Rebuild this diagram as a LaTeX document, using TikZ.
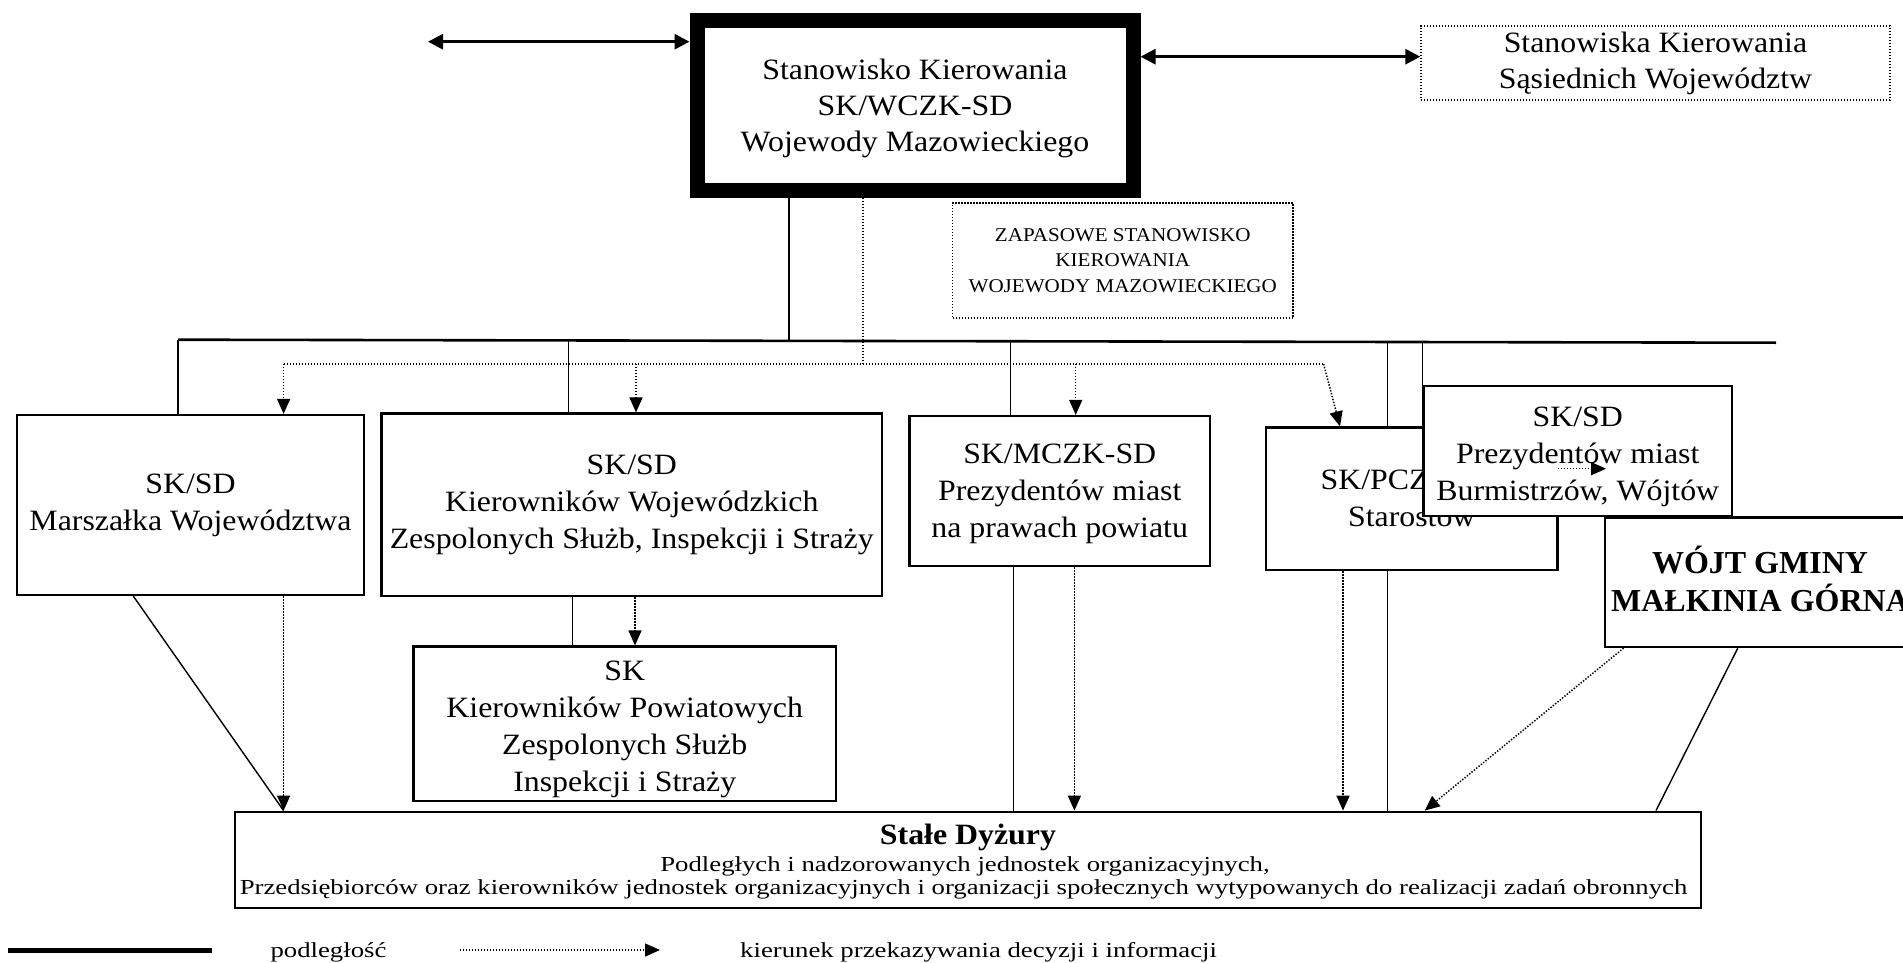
\documentclass[tikz,border=0pt]{standalone}
\usepackage{fontspec}
\setmainfont{Liberation Serif}[FakeStretch=1.08]
\newfontfamily\wideserif{Liberation Serif}[FakeStretch=1.25]
\newfontfamily\nostretchserif{Liberation Serif}
\newcommand\shifttext[2]{\raisebox{#1}[\height][\depth]{\begin{tabular}{@{}c@{}}#2\end{tabular}}}
\usetikzlibrary{arrows.meta}
\begin{document}
\begin{tikzpicture}[x=1pt,y=-1pt,
  boxs/.style={draw, line width=2.2pt, fill=white, inner sep=0pt, align=center,
    font=\fontsize{29.5}{37}\selectfont},
  dotbox/.style={draw, line width=1.4pt, dash pattern=on 1.4pt off 1.6pt, fill=white,
    inner sep=0pt, align=center},
  solidc/.style={line width=1.4pt},
  dotc/.style={line width=1.5pt, dash pattern=on 1.4pt off 1.6pt,
    -{Triangle[length=15pt,width=13pt]}},
  busline/.style={line width=2.6pt},
  dblarrow/.style={line width=3pt,
    {Triangle[length=15pt,width=15pt]}-{Triangle[length=15pt,width=15pt]}},
  plain/.style={inner sep=0pt, anchor=base},
  smalltext/.style={font=\wideserif\fontsize{21.4}{24}\selectfont}
]
\useasboundingbox (0,0) rectangle (1903,963);
\clip (0,0) rectangle (1903,963);

% ---------- boxes ----------
\node[boxs, line width=15pt, minimum width=436pt, minimum height=169pt,
  font=\fontsize{29.5}{36}\selectfont] (main) at (915,105.5)
  {\shifttext{-2.5pt}{Stanowisko Kierowania\\SK/WCZK-SD\\Wojewody Mazowieckiego}};
\node[dotbox, minimum width=469pt, minimum height=74pt,
  font=\fontsize{29.5}{36}\selectfont] (sas) at (1655.5,63)
  {Stanowiska Kierowania\\Sąsiednich Województw};
\node[dotbox, minimum width=340.5pt, minimum height=115pt,
  font=\fontsize{19.5}{25.5}\selectfont] (zap) at (1122.75,260.5)
  {ZAPASOWE STANOWISKO\\KIEROWANIA\\WOJEWODY MAZOWIECKIEGO};
\node[boxs, minimum width=347pt, minimum height=180pt] (marsz) at (190.5,505)
  {SK/SD\\Marszałka Województwa};
\node[boxs, minimum width=500.5pt, minimum height=182.5pt] (kw) at (631.75,504.75)
  {SK/SD\\Kierowników Wojewódzkich\\Zespolonych Służb, Inspekcji i Straży};
\node[boxs, minimum width=422.5pt, minimum height=154.5pt] (kp) at (624.75,723.75)
  {\shifttext{-5pt}{SK\\Kierowników Powiatowych\\Zespolonych Służb\\Inspekcji i Straży}};
\node[boxs, minimum width=300.5pt, minimum height=150pt] (pnpp) at (1059.75,491)
  {\shifttext{-2pt}{SK/MCZK-SD\\Prezydentów miast\\na prawach powiatu}};
\node[boxs, minimum width=291.5pt, minimum height=142.5pt] (staro) at (1411.75,498.75)
  {SK/PCZK-SD\\Starostów};
\node[boxs, minimum width=308.5pt, minimum height=130pt] (prezm) at (1577.75,451)
  {\shifttext{-5pt}{SK/SD\\Prezydentów miast\\Burmistrzów, Wójtów}};
\node[boxs, minimum width=310pt, minimum height=129.5pt,
  font=\nostretchserif\bfseries\fontsize{32}{35}\selectfont] (wojt) at (1760,582.25)
  {\shifttext{-1.3pt}{WÓJT GMINY\\MAŁKINIA GÓRNA}};
\node[boxs, line width=2.8pt, minimum width=1466pt, minimum height=96pt] (stale) at (968,860) {};
\node[plain, font=\bfseries\fontsize{29.5}{32}\selectfont] (st1) at (968,844) {Stałe Dyżury};
\node[plain, smalltext] (st2) at (965,871)
  {Podległych i nadzorowanych jednostek organizacyjnych,};
\node[plain, smalltext] (st3) at (963.5,894)
  {Przedsiębiorców oraz kierowników jednostek organizacyjnych i organizacji społecznych wytypowanych do realizacji zadań obronnych};

% ---------- top double arrows ----------
\coordinate (lA) at (428,41.7);
\coordinate (rA) at (1200,56.7);
\draw[dblarrow] (lA) -- (main.west |- lA);
\draw[dblarrow] (main.east |- rA) -- (sas.west |- rA);

% ---------- solid bus ----------
\coordinate (busL) at (178,339.7);
\coordinate (busR) at (1776,342.7);
\coordinate (b1) at (178,339.7);
\coordinate (b2) at (568.5,340.4);
\coordinate (b3) at (789,340.9);
\coordinate (b4) at (1010.5,341.3);
\coordinate (b5) at (1387.5,342);
\coordinate (b6) at (1422.7,342.1);
\draw[busline] (busL) -- (busR);
\draw[solidc] (b3 |- main.south) -- (b3);
\draw[solidc] (b1) -- (b1 |- marsz.north);
\draw[solidc] (b2) -- (b2 |- kw.north);
\draw[solidc] (b4) -- (b4 |- pnpp.north);
\draw[solidc] (b5) -- (b5 |- staro.north);
\draw[solidc] (b5 |- staro.south) -- (b5 |- stale.north);
\draw[solidc] (b6) -- (b6 |- prezm.north);

% ---------- dotted bus ----------
\coordinate (d0) at (863,364);
\coordinate (dL) at (283.6,364);
\coordinate (dK) at (636,364);
\coordinate (dP) at (1075.7,364);
\coordinate (dR) at (1323.6,364);
\coordinate (dS) at (1340,0);
\draw[dotc, -] (d0 |- main.south) -- (d0);
\draw[dotc, -] (dL) -- (dR);
\draw[dotc] (dL) -- (dL |- marsz.north);
\draw[dotc] (dK) -- (dK |- kw.north);
\draw[dotc] (dP) -- (dP |- pnpp.north);
\draw[dotc] (dR) -- (dS |- staro.north);

% ---------- lower connectors ----------
\coordinate (m1) at (133.3,0);
\coordinate (m2) at (283.6,0);
\draw[solidc] (m1 |- marsz.south) -- (m2 |- stale.north);
\draw[dotc] (m2 |- marsz.south) -- (m2 |- stale.north);

\coordinate (k1) at (572.7,0);
\coordinate (k2) at (635,0);
\draw[solidc] (k1 |- kw.south) -- (k1 |- kp.north);
\draw[dotc] (k2 |- kw.south) -- (k2 |- kp.north);

\coordinate (p1) at (1013.7,0);
\coordinate (p2) at (1074.4,0);
\draw[solidc] (p1 |- pnpp.south) -- (p1 |- stale.north);
\draw[dotc] (p2 |- pnpp.south) -- (p2 |- stale.north);

\coordinate (s1) at (1343,0);
\draw[dotc] (s1 |- staro.south) -- (s1 |- stale.north);

\coordinate (w1) at (1623.6,0);
\coordinate (w2) at (1424.7,0);
\coordinate (w3) at (1737.8,0);
\coordinate (w4) at (1656,0);
\draw[dotc] (w1 |- wojt.south) -- (w2 |- stale.north);
\draw[solidc] (w3 |- wojt.south) -- (w4 |- stale.north);

% small dotted arrow inside the Prezydentow box
\coordinate (pa) at (1558,468.7);
\coordinate (pb) at (1606,468.7);
\draw[dotc] (pa) -- (pb);

% ---------- legend ----------
\coordinate (lg1) at (8,950);
\coordinate (lg2) at (212,950);
\coordinate (lg3) at (460,950);
\coordinate (lg4) at (660,950);
\draw[line width=5pt] (lg1) -- (lg2);
\draw[dotc] (lg3) -- (lg4);
\node[plain, smalltext] (lgt1) at (328.5,957) {podległość};
\node[plain, smalltext, anchor=base west] (lgt2) at (740,957)
  {kierunek przekazywania decyzji i informacji};
\end{tikzpicture}
\end{document}
